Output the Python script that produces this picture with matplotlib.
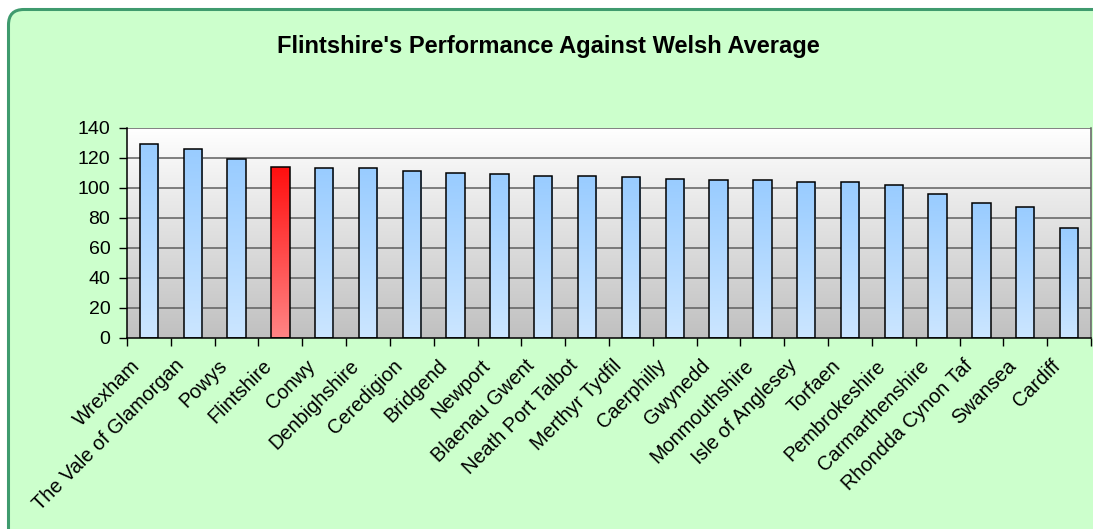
import numpy as np
import matplotlib
matplotlib.use("Agg")
import matplotlib.pyplot as plt
from matplotlib.patches import FancyBboxPatch
from matplotlib.colors import LinearSegmentedColormap
from matplotlib import transforms

# Authority names and index scores
authorities = [
    "Wrexham", "The Vale of Glamorgan", "Powys", "Flintshire", "Conwy",
    "Denbighshire", "Ceredigion", "Bridgend", "Newport", "Blaenau Gwent",
    "Neath Port Talbot", "Merthyr Tydfil", "Caerphilly", "Gwynedd",
    "Monmouthshire", "Isle of Anglesey", "Torfaen", "Pembrokeshire",
    "Carmarthenshire", "Rhondda Cynon Taf", "Swansea", "Cardiff",
]
scores = [129, 126, 119, 114, 113, 113, 111, 110, 109, 108, 108, 107,
          106, 105, 105, 104, 104, 102, 96, 90, 87, 73]
highlight = "Flintshire"
y_ticks = [0, 20, 40, 60, 80, 100, 120, 140]
title = "Flintshire's Performance Against Welsh Average"

plt.rcParams["font.family"] = ["Liberation Sans", "DejaVu Sans"]

W, H, DPI = 1093, 529, 100
fig = plt.figure(figsize=(W / DPI, H / DPI), dpi=DPI)
fig.patch.set_facecolor("white")

# Rounded green chart frame
frame = FancyBboxPatch((8.5 / W, -0.2), 1.2, 1.2 - 9.5 / H,
                       boxstyle="round,pad=0,rounding_size=0.014",
                       transform=fig.transFigure, facecolor="#ccffcc",
                       edgecolor="#3f9b6e", linewidth=2.2, zorder=-1,
                       mutation_aspect=W / H)
fig.add_artist(frame)

ax = fig.add_axes([127 / W, 1 - 337.7 / H, (1091 - 127) / W, (337.7 - 128) / H])
ax.set_facecolor("none")

n = len(authorities)
x = np.arange(n)

# Plot area: white at top fading to grey at the bottom
bg = LinearSegmentedColormap.from_list("bg", ["#c0c0c0", "#ffffff"])
grad = np.linspace(0, 1, 256).reshape(-1, 1)
ax.imshow(grad, cmap=bg, aspect="auto", origin="lower",
          extent=(-0.5, n - 0.5, 0, 140), zorder=0)

# Horizontal gridlines
for t in y_ticks[1:]:
    ax.axhline(t, color="#5f5f5f", linewidth=1.1, zorder=1)

blue = LinearSegmentedColormap.from_list("blue", ["#cce6ff", "#99ccff"])
red = LinearSegmentedColormap.from_list("red", ["#ff8585", "#ff0f0f"])

bars = ax.bar(x, scores, width=0.42, facecolor="none", edgecolor="black",
              linewidth=1.1, zorder=3)
for bar, name in zip(bars, authorities):
    cmap = red if name == highlight else blue
    bx, by = bar.get_x(), bar.get_y()
    bw, bh = bar.get_width(), bar.get_height()
    im = ax.imshow(grad, cmap=cmap, aspect="auto", origin="lower",
                   extent=(bx, bx + bw, by, by + bh), zorder=2)
    im.set_clip_path(bar)

ax.set_xlim(-0.5, n - 0.5)
ax.set_ylim(0, 140)

# Axes styling
for side in ("left", "bottom"):
    ax.spines[side].set_color("#000000")
    ax.spines[side].set_linewidth(1.1)
ax.spines["top"].set_visible(False)
ax.spines["right"].set_color("#5f5f5f")
ax.spines["right"].set_linewidth(1.1)

ax.set_yticks(y_ticks)
ax.set_yticklabels([str(t) for t in y_ticks], fontsize=14)
ax.tick_params(axis="y", direction="out", length=6, width=1, pad=6,
               color="black")

# Category boundary ticks on the x axis
ax.set_xticks(np.arange(-0.5, n, 1.0))
ax.set_xticklabels([])
ax.tick_params(axis="x", direction="out", length=6, width=1, color="black")

# Rotated category labels
offset = transforms.ScaledTranslation(-8 / DPI, -29 / DPI, fig.dpi_scale_trans)
for xi, name in zip(x, authorities):
    ax.text(xi, 0, name, rotation=45, rotation_mode="anchor",
            ha="right", va="baseline", fontsize=14.3,
            transform=ax.get_xaxis_transform() + offset, clip_on=False)

fig.text(548 / W, 1 - 46.5 / H, title, ha="center", va="center",
         fontsize=17, fontweight="bold")

fig.savefig("out.png", dpi=DPI, facecolor=fig.get_facecolor())
